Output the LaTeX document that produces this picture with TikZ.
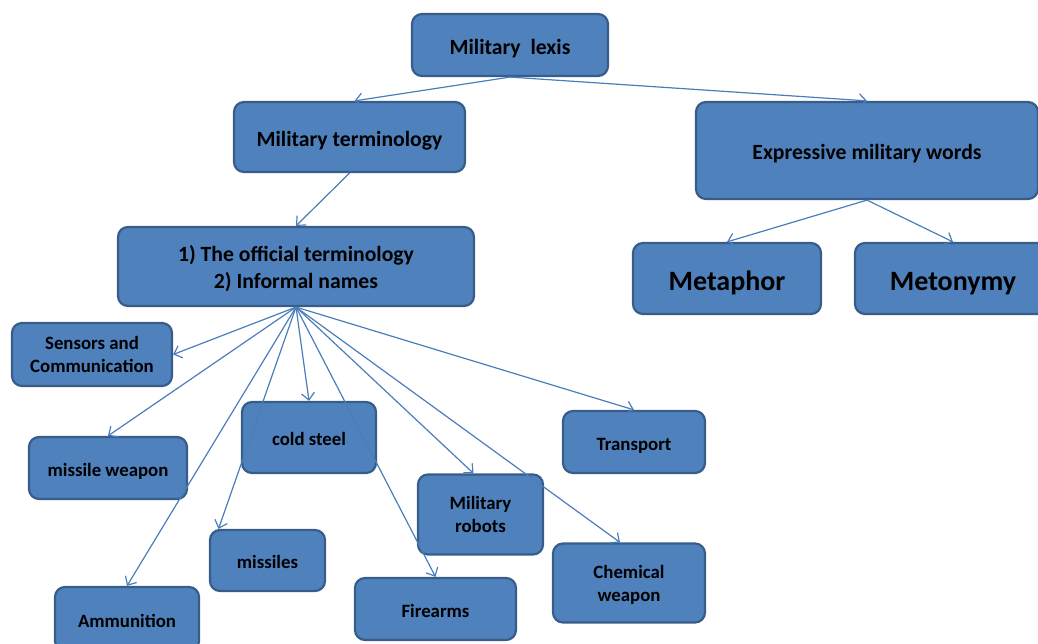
\documentclass[tikz,border=0pt]{standalone}
\usepackage{fontspec}
\setmainfont{Carlito}
\usetikzlibrary{arrows.meta}
\definecolor{boxfill}{HTML}{4F81BD}
\definecolor{boxline}{HTML}{385D8A}
\definecolor{linkcol}{HTML}{4A7EBB}
\begin{document}
\begin{tikzpicture}[x=1pt,y={(0pt,-1pt)},
  box/.style={draw=boxline,fill=boxfill,line width=2.2pt,rounded corners=10pt,
    inner sep=0pt,text depth=0pt,align=center,text=black,
    execute at begin node={\rule{0pt}{0.86em}},
    font=\bfseries\fontsize{21.7}{27}\selectfont},
  smallbox/.style={box,font=\bfseries\fontsize{18.8}{23}\selectfont},
  bigbox/.style={box,font=\bfseries\fontsize{28}{32}\selectfont},
  link/.style={draw=linkcol,line width=1.2pt,-{Straight Barb[length=7pt,width=13pt]}}]
\useasboundingbox (0,0) rectangle (1038,644);

% top levels
\node[box,minimum width=196pt,minimum height=62pt] (lexis) at (510,45) {Military\ \ lexis};
\node[box,minimum width=231pt,minimum height=70pt] (term) at (349.5,137) {Military terminology};
\node[box,minimum width=342pt,minimum height=97pt] (expr) at (867,150.5) {Expressive military words};
\node[box,minimum width=356pt,minimum height=79pt] (kinds) at (296,266.5) {1) The official terminology\\2) Informal names};
\node[bigbox,minimum width=188pt,minimum height=71pt] (meta) at (727,278.5) {Metaphor};
\node[bigbox,minimum width=196pt,minimum height=71pt] (meto) at (953,278.5) {Metonymy};

% branches of the terminology
\node[smallbox,minimum width=160pt,minimum height=63pt] (sens) at (92,354.5) {Sensors and\\Communication};
\node[smallbox,minimum width=158pt,minimum height=62pt] (mweap) at (108,468) {missile weapon};
\node[smallbox,minimum width=134pt,minimum height=71pt] (cold) at (309,437.5) {cold steel};
\node[smallbox,minimum width=142pt,minimum height=62pt] (trans) at (634,442) {Transport};
\node[smallbox,minimum width=125pt,minimum height=80pt] (robot) at (480.5,514.5) {Military\\robots};
\node[smallbox,minimum width=115pt,minimum height=61pt] (miss) at (267.5,560.5) {missiles};
\node[smallbox,minimum width=152pt,minimum height=79pt] (chem) at (629,583) {Chemical\\weapon};
\node[smallbox,minimum width=144pt,minimum height=64pt] (ammo) at (127,619) {Ammunition};
\node[smallbox,minimum width=161pt,minimum height=62pt] (fire) at (435.5,609) {Firearms};

% connectors
\draw[link] (lexis.south) -- ([xshift=5pt]term.north);
\draw[link] (lexis.south) -- (expr.north);
\draw[link] (term.south) -- (kinds.north);
\draw[link] (expr.south) -- (meta.north);
\draw[link] (expr.south) -- (meto.north);

\draw[link] (kinds.south) -- (sens.east);
\draw[link] (kinds.south) -- (mweap.north);
\draw[link] (kinds.south) -- (ammo.north);
\draw[link] (kinds.south) -- ([xshift=-49pt]miss.north);
\draw[link] (kinds.south) -- (cold.north);
\draw[link] (kinds.south) -- (fire.north);
\draw[link] (kinds.south) -- ([xshift=-7pt]robot.north);
\draw[link] (kinds.south) -- ([xshift=-9pt]chem.north);
\draw[link] (kinds.south) -- (trans.north);
\end{tikzpicture}
\end{document}
